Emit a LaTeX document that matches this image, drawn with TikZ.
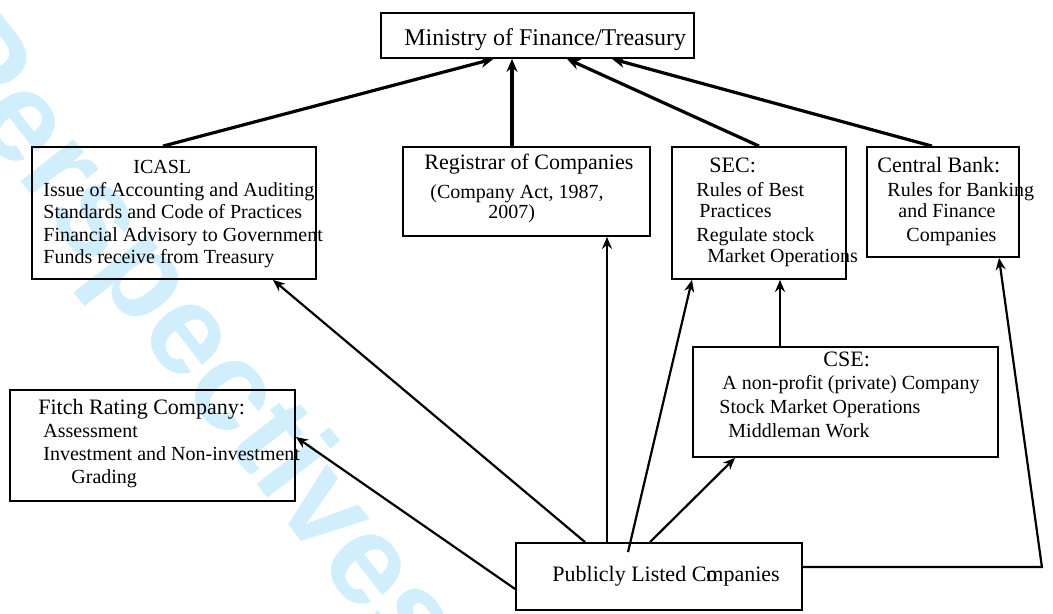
\documentclass[tikz,border=0pt]{standalone}
\usepackage{fontspec}
\setmainfont{Liberation Serif}
\newfontfamily\wmfont{Liberation Sans}
\usetikzlibrary{arrows.meta}
\definecolor{wmblue}{RGB}{208,238,251}

\tikzset{
  box/.style={draw, line width=0.9pt, inner sep=0pt},
  ln/.style={anchor=base west, inner sep=0pt, font=\fontsize{10}{11}\selectfont},
  hd/.style={ln, font=\fontsize{11}{12}\selectfont},
  up/.style={line width=1.6pt, -{Stealth[length=6.5pt,width=5.5pt]}},
  low/.style={line width=1.1pt, -{Stealth[length=6pt,width=5pt]}}
}

\begin{document}
\begin{tikzpicture}[x=0.5pt,y=-0.5pt]
\useasboundingbox (0,0) rectangle (1053,614);
% watermark
\node[rotate=-52, text=wmblue, font=\wmfont\bfseries\fontsize{64}{64}\selectfont] (wm) at (188,342) {Perspectives};

% boxes
\node[box, minimum width=156.5pt, minimum height=22.5pt] (min) at (537.5,35.5) {};
\node[box, minimum width=142pt, minimum height=66pt] (icasl) at (174,213) {};
\node[box, minimum width=123.5pt, minimum height=44.5pt] (reg) at (526.5,191.5) {};
\node[box, minimum width=87pt, minimum height=66pt] (sec) at (759,213) {};
\node[box, minimum width=76pt, minimum height=55pt] (cb) at (943,202) {};
\node[box, minimum width=142.5pt, minimum height=55.5pt] (fitch) at (152.5,445.5) {};
\node[box, minimum width=152.5pt, minimum height=55pt] (cse) at (845.5,402) {};
\node[box, minimum width=143pt, minimum height=33.5pt] (plc) at (659,576.5) {};

% texts
\node[ln, font=\fontsize{12}{13}\selectfont] (min-t) at (404,46) {Ministry of Finance/Treasury};
\foreach \x/\y/\t [count=\i] in {133/174/ICASL, 43/197/{Issue of Accounting and Auditing},
    43/219/{Standards and Code of Practices}, 43/242/{Financial Advisory to Government},
    43/264/{Funds receive from Treasury}}
  \node[ln] (icasl-\i) at (\x,\y) {\t};
\node[hd] (reg-1) at (424,170) {Registrar of Companies};
\node[ln] (reg-2) at (430,199) {(Company Act, 1987,};
\node[ln] (reg-3) at (488,219) {2007)};
\node[hd] (sec-1) at (709,173) {SEC:};
\foreach \x/\y/\t [count=\i from 2] in {696/197/{Rules of Best}, 699/218/Practices,
    696/242/{Regulate stock}, 707/263/{Market Operations}}
  \node[ln] (sec-\i) at (\x,\y) {\t};
\node[hd] (cb-1) at (877,173) {Central Bank:};
\foreach \x/\y/\t [count=\i from 2] in {887/197/{Rules for Banking}, 898/218/{and Finance},
    906/242/Companies}
  \node[ln] (cb-\i) at (\x,\y) {\t};
\node[hd] (fitch-1) at (38,414) {Fitch Rating Company:};
\foreach \x/\y/\t [count=\i from 2] in {43/437/Assessment, 43/460/{Investment and Non-investment},
    71/483/Grading}
  \node[ln] (fitch-\i) at (\x,\y) {\t};
\node[hd] (cse-1) at (823,366) {CSE:};
\foreach \x/\y/\t [count=\i from 2] in {722/389/{A non-profit (private) Company},
    719/413/{Stock Market Operations}, 728/437/{Middleman Work}}
  \node[ln] (cse-\i) at (\x,\y) {\t};
\node[hd] (plc-t) at (552,581) {Publicly Listed C\rlap{o}mpanies};

% connectors
\draw[up] ([xshift=-5.5pt]icasl.north) -- ([xshift=-22pt]min.south);
\draw[up] ([xshift=-7.25pt]reg.north) -- ([xshift=-12.75pt]min.south);
\draw[up] (sec.north) -- ([xshift=14.75pt]min.south);
\draw[up] ([xshift=-5.5pt]cb.north) -- ([xshift=37.25pt]min.south);
\draw[low] ([xshift=-26pt]plc.north) -- ([xshift=40.25pt]reg.south);
\draw[low] ([xshift=-37pt]plc.north) -- ([xshift=49.5pt]icasl.south);
\draw[low] ([xshift=-15.5pt,yshift=-5pt]plc.north) -- ([xshift=-33.5pt]sec.south);
\draw[low] ([xshift=-4.5pt]plc.north) -- ([xshift=-55.25pt]cse.south);
\draw[low] ([xshift=-32.75pt]cse.north) -- ([xshift=10.5pt]sec.south);
\draw[low] ([yshift=4.75pt]plc.east) -- ++(239,0) -- ([xshift=28pt]cb.south);
\draw[low] ([yshift=-6.25pt]plc.west) -- ([yshift=4.25pt]fitch.east);
\end{tikzpicture}
\end{document}
